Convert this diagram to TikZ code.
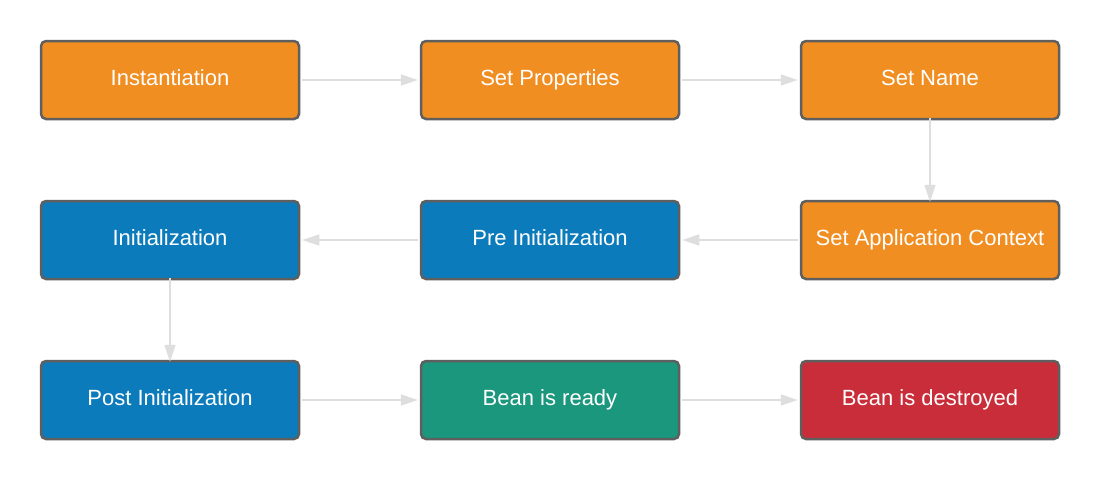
\documentclass[tikz,border=0pt]{standalone}
\usepackage{fontspec}
\setmainfont{Liberation Sans}
\usetikzlibrary{arrows.meta}
\definecolor{borange}{HTML}{F08E22}
\definecolor{bblue}{HTML}{0C7BBB}
\definecolor{bgreen}{HTML}{1A977C}
\definecolor{bred}{HTML}{C92D39}
\definecolor{bborder}{HTML}{5F5F5F}
\definecolor{barrow}{HTML}{DEDEDE}
\tikzset{
  box/.style={draw=bborder, line width=2.5pt, rounded corners=5pt, minimum width=258pt, minimum height=78pt, inner sep=0pt, text=white, font=\fontsize{22}{26}\selectfont, anchor=center},
  conn/.style={draw=barrow, line width=1.5pt, -{Triangle[length=17pt,width=11pt]}},
}
\begin{document}
\begin{tikzpicture}[x=1pt,y=-1pt]
\useasboundingbox[fill=white] (0,0) rectangle (1100,480);
\node[box, fill=borange] (a) at (170,80) {\raisebox{4pt}{Instantiation}};
\node[box, fill=borange] (b) at (550,80) {\raisebox{4pt}{Set Properties}};
\node[box, fill=borange] (c) at (930,80) {\raisebox{4pt}{Set Name}};
\node[box, fill=borange] (d) at (930,240) {\raisebox{4pt}{Set Application Context}};
\node[box, fill=bblue] (e) at (550,240) {\raisebox{4pt}{Pre Initialization}};
\node[box, fill=bblue] (f) at (170,240) {\raisebox{4pt}{Initialization}};
\node[box, fill=bblue] (g) at (170,400) {\raisebox{4pt}{Post Initialization}};
\node[box, fill=bgreen] (h) at (550,400) {\raisebox{4pt}{Bean is ready}};
\node[box, fill=bred] (i) at (930,400) {\raisebox{4pt}{Bean is destroyed}};
\draw[conn] ([xshift=2pt]a.east) -- ([xshift=-2pt]b.west);
\draw[conn] ([xshift=2pt]b.east) -- ([xshift=-2pt]c.west);
\draw[conn] ([yshift=2pt]c.south) -- ([yshift=-2pt]d.north);
\draw[conn] ([xshift=-2pt]d.west) -- ([xshift=2pt]e.east);
\draw[conn] ([xshift=-2pt]e.west) -- ([xshift=2pt]f.east);
\draw[conn] ([yshift=2pt]f.south) -- ([yshift=-2pt]g.north);
\draw[conn] ([xshift=2pt]g.east) -- ([xshift=-2pt]h.west);
\draw[conn] ([xshift=2pt]h.east) -- ([xshift=-2pt]i.west);
\end{tikzpicture}
\end{document}
